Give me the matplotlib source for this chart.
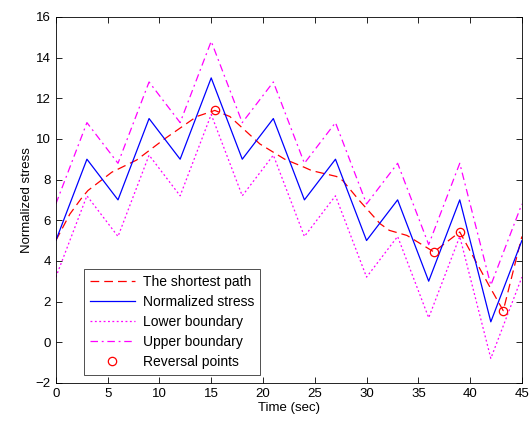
import matplotlib

matplotlib.use("Agg")
import matplotlib.pyplot as plt
import numpy as np

plt.rcParams["font.family"] = ["Liberation Sans", "DejaVu Sans"]

# normalized stress samples (every 3 s)
time_s = [0, 3, 6, 9, 12, 15, 18, 21, 24, 27, 30, 33, 36, 39, 42, 45]
stress = [5, 9, 7, 11, 9, 13, 9, 11, 7, 9, 5, 7, 3, 7, 1, 5]
band = 1.8

# shortest path
path_t = [0, 1.35, 2.5, 3.1, 5.4, 7.8, 10.5, 13.6, 15.35, 16.8, 19.7, 21.3,
          22.1, 24.0, 24.7, 27.1, 27.7, 29.3, 31.3, 32.2, 33.9, 36.5, 39.0,
          41.9, 43.2, 45]
path_y = [5.0, 6.3, 7.1, 7.46, 8.36, 8.96, 10.0, 11.1, 11.4, 11.1, 9.75, 9.25,
          9.0, 8.6, 8.44, 8.15, 7.95, 6.97, 5.83, 5.5, 5.25, 4.44, 5.42,
          2.72, 1.55, 5.2]

rev_t = [15.35, 36.5, 39.0, 43.2]
rev_y = [11.4, 4.44, 5.42, 1.55]

stress_arr = np.array(stress, dtype=float)

fig = plt.figure(figsize=(5.32, 4.23), dpi=100)
ax = fig.add_axes([0.105, 0.095, 0.876, 0.865])

ax.plot(path_t, path_y, color="red", linestyle=(0, (7, 4)), linewidth=0.9,
        label="The shortest path")
ax.plot(time_s, stress_arr, color="blue", linewidth=0.9,
        label="Normalized stress")
ax.plot(time_s, stress_arr - band, color="magenta", linestyle=(0, (1.5, 2)),
        linewidth=0.9, label="Lower boundary")
ax.plot(time_s, stress_arr + band, color="magenta", linestyle=(0, (6, 3, 1.5, 3)),
        linewidth=0.9, label="Upper boundary")
ax.plot(rev_t, rev_y, linestyle="none", marker="o", markersize=6,
        markerfacecolor="none", markeredgecolor="red", markeredgewidth=0.9,
        label="Reversal points")

ax.set_xlim(0, 45)
ax.set_ylim(-2, 16)
ax.set_xticks(np.arange(0, 46, 5))
ax.set_yticks(np.arange(-2, 17, 2))
ax.tick_params(direction="in", top=True, right=True, labelsize=9.5, length=4,
               width=0.6)
for s in ax.spines.values():
    s.set_linewidth(0.6)
ax.set_xlabel("Time (sec)", fontsize=9.5, labelpad=2)
ax.set_ylabel("Normalized stress", fontsize=9.5, labelpad=2)

leg = ax.legend(loc="lower left", bbox_to_anchor=(0.06, 0.022), fontsize=10,
                frameon=True, fancybox=False, edgecolor="black",
                handlelength=3.2, borderpad=0.45, labelspacing=0.42,
                handletextpad=0.6, borderaxespad=0.0)
leg.get_frame().set_linewidth(0.6)

fig.savefig("out.png", dpi=100)
